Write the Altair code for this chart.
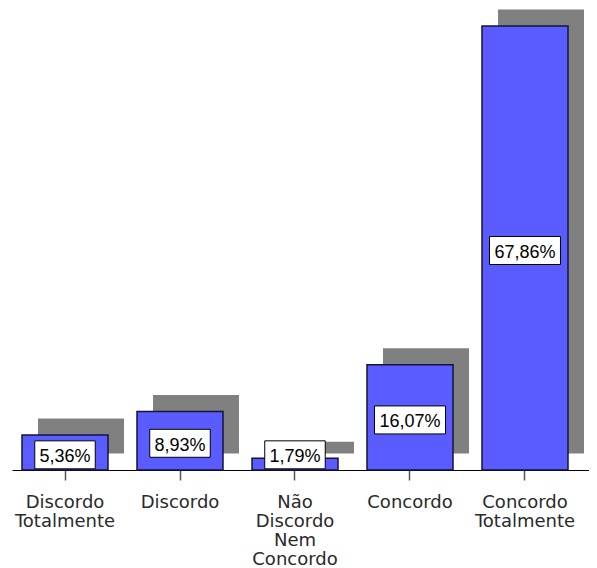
import altair as alt
import pandas as pd

categories = ["Discordo Totalmente", "Discordo", "Não Discordo Nem Concordo",
              "Concordo", "Concordo Totalmente"]
values = [5.36, 8.93, 1.79, 16.07, 67.86]
labels = ["5,36%", "8,93%", "1,79%", "16,07%", "67,86%"]

df = pd.DataFrame({"cat": categories, "v": values, "lab": labels})

x = alt.X(
    "cat:N", sort=categories,
    scale=alt.Scale(paddingInner=0.2522, paddingOuter=0.1348, align=0.3226),
    axis=alt.Axis(
        title=None, labelAngle=0,
        labelExpr="split(datum.label, ' ')",
        labelFont="DejaVu Sans", labelFontSize=18, labelLineHeight=19,
        labelColor="#2a2a2a", labelPadding=13,
        tickSize=10, tickColor="#555555", tickWidth=1.5,
        domainColor="#000000", domainWidth=1,
        grid=False,
    ),
)
yscale = alt.Scale(domain=[0, 70], nice=False)
y = alt.Y("v:Q", scale=yscale, axis=None)

base = alt.Chart(df)

shadow = base.mark_bar(
    color="#808080", xOffset=16, x2Offset=16, yOffset=-16.5, y2Offset=-14.5
).encode(x=x, y=y)

bars = base.mark_bar(
    color="#5a5cff", stroke="#14143a", strokeWidth=1.5
).encode(x=x, y=y)

lab_base = base.transform_calculate(
    lp="max(datum.v / 2, 2.7)",
    bw="length(datum.lab) * 10.5 + 8",
)

boxes = lab_base.mark_bar(
    fill="white", stroke="#000000", strokeWidth=1,
    yOffset=-11.5, y2Offset=16.5,
).encode(
    x=x,
    y=alt.Y("lp:Q", scale=yscale, axis=None),
    y2=alt.Y2("lp:Q"),
    size=alt.Size("bw:Q", scale=None, legend=None),
)

texts = lab_base.mark_text(
    font="Liberation Sans", fontSize=18, baseline="middle", dy=5, color="#000000"
).encode(
    x=x,
    y=alt.Y("lp:Q", scale=yscale, axis=None),
    text="lab:N",
)

chart = alt.layer(shadow, bars, boxes, texts).properties(
    width=577, height=458,
    autosize=alt.AutoSizeParams(type="none"),
    padding={"left": 4, "top": 4, "right": 0, "bottom": 98},
    background="white",
).configure_view(stroke=None)

chart.save("out.html", embed_options={"renderer": "svg", "actions": False})
